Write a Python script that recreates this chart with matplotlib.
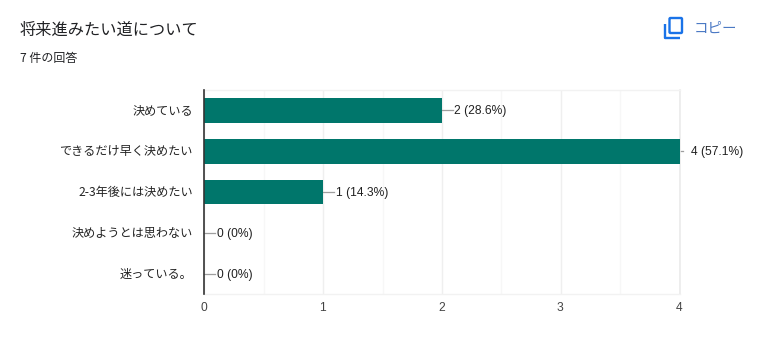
import matplotlib
matplotlib.use("Agg")
import matplotlib.pyplot as plt
from matplotlib.patches import FancyBboxPatch
from matplotlib.transforms import ScaledTranslation

categories = ["決めている", "できるだけ早く決めたい", "2-3年後には決めたい", "決めようとは思わない", "迷っている。"]
counts = [2, 4, 1, 0, 0]
percent_labels = ["28.6%", "57.1%", "14.3%", "0%", "0%"]
xticks = [0, 1, 2, 3, 4]
title = "将来進みたい道について"
subtitle = "7 件の回答"
copy_label = "コピー"

W, H = 759, 351
PX = 0.72
JP = ["Noto Sans CJK JP", "DejaVu Sans"]
LAT = ["Liberation Sans", "DejaVu Sans"]
BAR = "#00766b"
INK = "#212121"

fig = plt.figure(figsize=(W / 100, H / 100), dpi=100, facecolor="white")
L, R, T, B = 204.5, 679.5, 90, 294
ax = fig.add_axes([L / W, 1 - B / H, (R - L) / W, (B - T) / H])
ax.set_xlim(0, 4)
ax.set_ylim(len(categories) - 0.5, -0.5)
ypos = list(range(len(categories)))
ax.barh(ypos, counts, height=0.61, color=BAR, zorder=3)

ax.set_xticks(xticks)
ax.set_xticks([t + 0.5 for t in xticks[:-1]], minor=True)
ax.grid(True, axis="x", which="major", color="#efefef", lw=1, zorder=0)
ax.grid(True, axis="x", which="minor", color="#f7f7f7", lw=1, zorder=0)
ax.tick_params(axis="both", which="both", length=0)
ax.tick_params(axis="x", pad=5.5)
ax.set_xticklabels([str(t) for t in xticks], fontsize=12 * PX, color="#444444", family=LAT)
shift_x = ScaledTranslation(-0.7 / 100, 0, fig.dpi_scale_trans)
for lab in ax.get_xticklabels():
    lab.set_transform(lab.get_transform() + shift_x)
ax.set_yticks(ypos)
ax.set_yticklabels(categories, fontsize=12.15 * PX, color="#222222", family=JP)
ax.tick_params(axis="y", pad=8.5)
shift_y = ScaledTranslation(0, 1 / 100, fig.dpi_scale_trans)
for lab in ax.get_yticklabels():
    lab.set_transform(lab.get_transform() + shift_y)

for s in ("top", "bottom"):
    ax.spines[s].set_color("#f2f2f2")
    ax.spines[s].set_linewidth(1)
ax.spines["right"].set_color("#ebebeb")
ax.spines["right"].set_linewidth(1.2)
ax.spines["left"].set_color("#333333")
ax.spines["left"].set_linewidth(1.2)
ax.spines["left"].set_zorder(5)

unit = 4 / (R - L)
down = ScaledTranslation(0, -1 / 100, fig.dpi_scale_trans)
for y, c, p in zip(ypos, counts, percent_labels):
    full = c >= xticks[-1]
    gap = (3 if full else 11) * unit
    ax.plot([c, c + gap], [y, y], color="#9e9e9e", lw=0.9, zorder=2, clip_on=False)
    ax.text(c + (11.5 if full else 12.5) * unit, y, f"{c} ({p})", fontsize=12 * PX, color=INK,
            family=LAT, va="center", ha="left", clip_on=False, zorder=4,
            transform=ax.transData + down)

fig.text(20 / W, 1 - 30 / H, title, fontsize=16.2 * PX, color="#202124", family=JP, va="center", ha="left")
fig.text(20 / W, 1 - 58.7 / H, subtitle, fontsize=12 * PX, color="#202124", family=JP, va="center", ha="left")
fig.text(694 / W, 1 - 29 / H, copy_label, fontsize=14.5 * PX, color="#4a78c4", family=JP, va="center", ha="left")

overlay = fig.add_axes([0, 0, 1, 1], facecolor="none")
overlay.set_xlim(0, W)
overlay.set_ylim(H, 0)
overlay.axis("off")
ICON = "#1a73e8"
overlay.add_patch(FancyBboxPatch((669.5, 18), 12.5, 15, boxstyle="round,pad=0,rounding_size=1",
                                 fill=False, ec=ICON, lw=1.7))
overlay.plot([665, 665, 680], [23.5, 38, 38], color=ICON, lw=1.7, solid_capstyle="butt", solid_joinstyle="round")

fig.savefig("out.png", dpi=100, facecolor="white")
